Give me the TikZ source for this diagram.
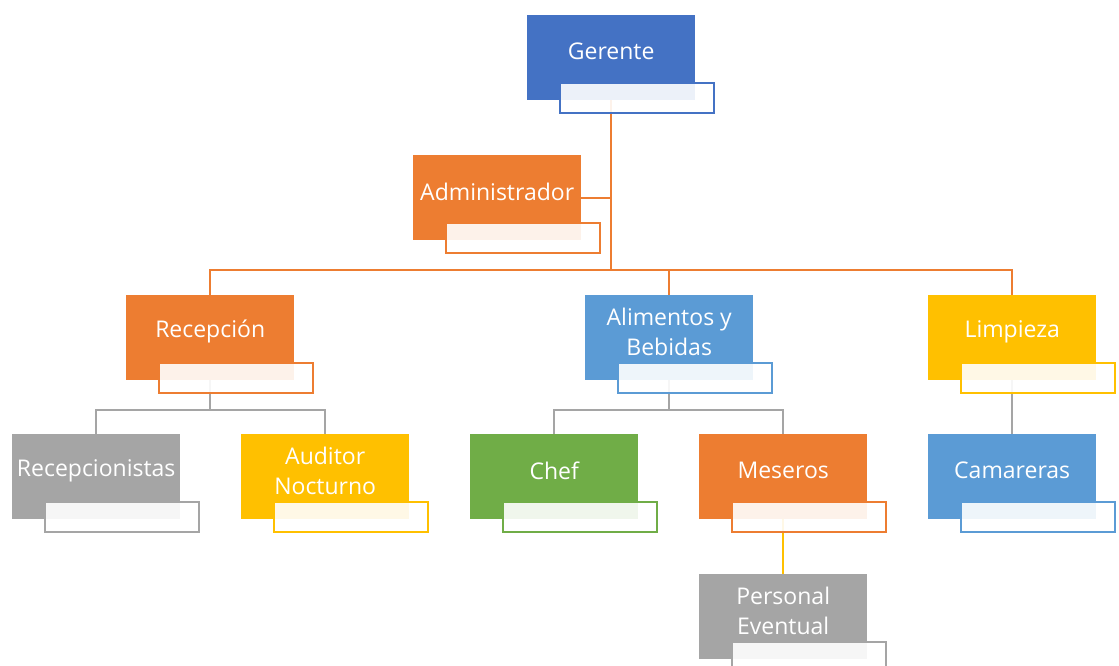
\documentclass[tikz,border=0pt]{standalone}
\usepackage{fontspec}
\setmainfont{Open Sans}
\definecolor{cblue}{HTML}{4472C4}
\definecolor{corange}{HTML}{ED7D31}
\definecolor{cgray}{HTML}{A5A5A5}
\definecolor{cgold}{HTML}{FFC000}
\definecolor{csky}{HTML}{5B9BD5}
\definecolor{cgreen}{HTML}{70AD47}
\tikzset{
  mainbox/.style={fill=#1, draw=none, minimum width=168pt, minimum height=85pt,
    anchor=north west, inner sep=0pt},
  tagbox/.style={draw=#1, line width=2pt, fill=white, fill opacity=0.9,
    minimum width=154pt, minimum height=30pt, anchor=north west, inner sep=0pt},
  lbl/.style={text=white, font=\fontsize{23}{30}\selectfont, align=center, inner sep=0pt},
  link/.style={draw=#1, line width=2pt},
}
\newcommand{\orgunit}[4]{%
  \node[mainbox=#4] (#1) at (#2,#3) {};
}
\newcommand{\orgtag}[2]{%
  \node[tagbox=#2] (#1B) at ([xshift=32pt,yshift=-67pt]#1.north west) {};
}
\newcommand{\orglabel}[2]{%
  \node[lbl] (#1T) at ([yshift=6pt]#1.center) {#2};
}
\begin{document}
\begin{tikzpicture}[x=1pt,y=-1pt]
\useasboundingbox (0,0) rectangle (1119,666);
\clip (0,0) rectangle (1119,666);

% coloured blocks
\orgunit{ger}{527}{15}{cblue}
\orgunit{adm}{413}{155}{corange}
\orgunit{rec}{126}{295}{corange}
\orgunit{ali}{585}{295}{csky}
\orgunit{lim}{928}{295}{cgold}
\orgunit{rcp}{12}{434}{cgray}
\orgunit{aud}{241}{434}{cgold}
\orgunit{chf}{470}{434}{cgreen}
\orgunit{mes}{699}{434}{corange}
\orgunit{cam}{928}{434}{csky}
\orgunit{per}{699}{574}{cgray}

% junction levels
\coordinate (j1) at (611,270);
\coordinate (j2) at (611,410);

% connectors
\draw[link=corange] (ger.south) -- (ger.south |- j1);
\draw[link=corange] (adm.east) -- (adm.east -| ger.south);
\draw[link=corange] (rec.north) -- (rec.north |- j1) -- (lim.north |- j1) -- (lim.north);
\draw[link=corange] (ali.north) -- (ali.north |- j1);

\draw[link=cgray] (rec.south) -- (rec.south |- j2);
\draw[link=cgray] (rcp.north) -- (rcp.north |- j2) -- (aud.north |- j2) -- (aud.north);
\draw[link=cgray] (ali.south) -- (ali.south |- j2);
\draw[link=cgray] (chf.north) -- (chf.north |- j2) -- (mes.north |- j2) -- (mes.north);
\draw[link=cgray] (lim.south) -- (cam.north);
\draw[link=cgold] (mes.south) -- (per.north);

% text panels
\orgtag{ger}{cblue}
\orgtag{adm}{corange}
\orgtag{rec}{corange}
\orgtag{ali}{csky}
\orgtag{lim}{cgold}
\orgtag{rcp}{cgray}
\orgtag{aud}{cgold}
\orgtag{chf}{cgreen}
\orgtag{mes}{corange}
\orgtag{cam}{csky}
\orgtag{per}{cgray}

% labels
\orglabel{ger}{Gerente}
\orglabel{adm}{Administrador}
\orglabel{rec}{Recepción}
\orglabel{ali}{Alimentos y\\Bebidas}
\orglabel{lim}{Limpieza}
\orglabel{rcp}{Recepcionistas}
\orglabel{aud}{Auditor\\Nocturno}
\orglabel{chf}{Chef}
\orglabel{mes}{Meseros}
\orglabel{cam}{Camareras}
\orglabel{per}{Personal\\Eventual}
\end{tikzpicture}
\end{document}
